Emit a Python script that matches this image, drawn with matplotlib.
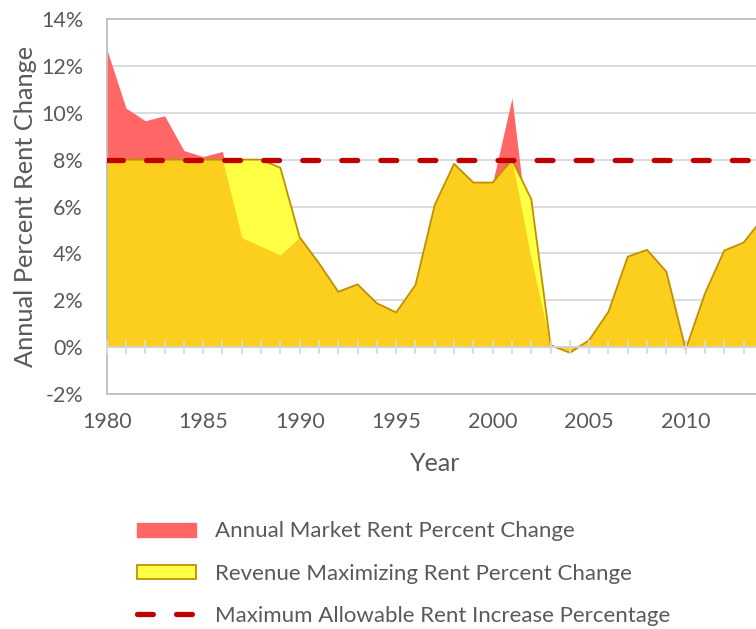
import numpy as np
import matplotlib
matplotlib.use("Agg")
import matplotlib.pyplot as plt
from matplotlib.patches import Patch
from matplotlib.lines import Line2D

plt.rcParams['font.family'] = ['Lato', 'DejaVu Sans']

# data (percent)
years = np.arange(1980, 2015)
market_change = [12.72, 10.2, 9.66, 9.87, 8.39, 8.13, 8.35, 4.67, 4.3, 3.93,
                 4.69, 3.58, 2.36, 2.68, 1.87, 1.48, 2.65, 6.07, 7.82, 7.02,
                 7.02, 10.63, 3.75, 0.08, -0.24, 0.3, 1.51, 3.86, 4.15, 3.22,
                 -0.1, 2.29, 4.12, 4.46, 5.5]
revenue_change = [8.0, 8.0, 8.0, 8.0, 8.0, 8.0, 8.0, 8.0, 8.0, 7.65,
                  4.69, 3.58, 2.36, 2.68, 1.87, 1.48, 2.65, 6.07, 7.82, 7.02,
                  7.02, 8.0, 6.31, 0.08, -0.24, 0.3, 1.51, 3.86, 4.15, 3.22,
                  -0.1, 2.29, 4.12, 4.46, 5.5]
max_allowable = 8.0

y_ticks = [-2, 0, 2, 4, 6, 8, 10, 12, 14]
x_label_years = [1980, 1985, 1990, 1995, 2000, 2005, 2010]

txt = '#595959'
red = '#FF6666'
yellow = '#FFFF44'
gold = '#FCCF1F'
gold_edge = '#BF9000'
dash_red = '#C00000'
grid_c = '#D9D9D9'
frame_c = '#BFBFBF'
dash_style = (0, (3.0, 4.4))

market = np.array(market_change)
revenue = np.array(revenue_change)

fig = plt.figure(figsize=(7.56, 6.29), dpi=100)
ax = fig.add_axes([0.1411, 0.3736, 0.868, 0.5962])

ax.fill_between(years, 0, market, color=red, lw=0, zorder=2)
ax.fill_between(years, 0, revenue, color=yellow, lw=0, zorder=2.1)
ax.fill_between(years, 0, np.minimum(market, revenue), color=gold, lw=0, zorder=2.2)
ax.fill_between(years, 0, revenue, facecolor='none', edgecolor=gold_edge, lw=1.3, zorder=2.3)

ax.axhline(max_allowable, color=dash_red, lw=3.8, linestyle=dash_style,
           dash_capstyle='round', zorder=4)

ax.set_xlim(years[0], years[-1])
ax.set_ylim(y_ticks[0], y_ticks[-1])
ax.set_yticks(y_ticks)
ax.set_yticklabels([f'{v}%' for v in y_ticks])
ax.set_xticks(x_label_years)
ax.tick_params(axis='y', length=0, pad=17, labelsize=15.5, labelcolor=txt)
ax.tick_params(axis='x', length=0, pad=13, labelsize=15.5, labelcolor=txt)
ax.grid(axis='y', color=grid_c, lw=1.3, zorder=1)
ax.set_axisbelow(True)

for s in ['left', 'top', 'bottom']:
    ax.spines[s].set_color(frame_c)
    ax.spines[s].set_linewidth(1.3)
ax.spines['right'].set_visible(False)

# category axis crossing at zero with yearly tick marks
zero_pos = (0 - y_ticks[0]) / (y_ticks[-1] - y_ticks[0])
sec = ax.secondary_xaxis(zero_pos)
sec.set_xticks(years)
sec.tick_params(direction='inout', length=9.5, width=1.3, color=grid_c, labelbottom=False)
sec.spines['bottom'].set_color(grid_c)
sec.spines['bottom'].set_linewidth(1.3)
sec.set_zorder(5)

ax.set_xlabel('Year', fontsize=18, color=txt, labelpad=14)
ax.set_ylabel('Annual Percent Rent Change', fontsize=18.3, color=txt, labelpad=3)

handles = [
    Patch(facecolor=red, edgecolor=red),
    Patch(facecolor=yellow, edgecolor=gold_edge, linewidth=1.3),
    Line2D([0], [0], color=dash_red, lw=3.8, linestyle=dash_style, dash_capstyle='round'),
]
labels = ['Annual Market Rent Percent Change',
          'Revenue Maximizing Rent Percent Change',
          'Maximum Allowable Rent Increase Percentage']
fig.legend(handles, labels, loc='upper left', bbox_to_anchor=(0.181, 0.171),
           frameon=False, fontsize=16, labelcolor=txt, handlelength=2.65,
           handleheight=0.6, handletextpad=0.85, labelspacing=1.0,
           borderaxespad=0, borderpad=0)

fig.savefig('out.png', dpi=100)
